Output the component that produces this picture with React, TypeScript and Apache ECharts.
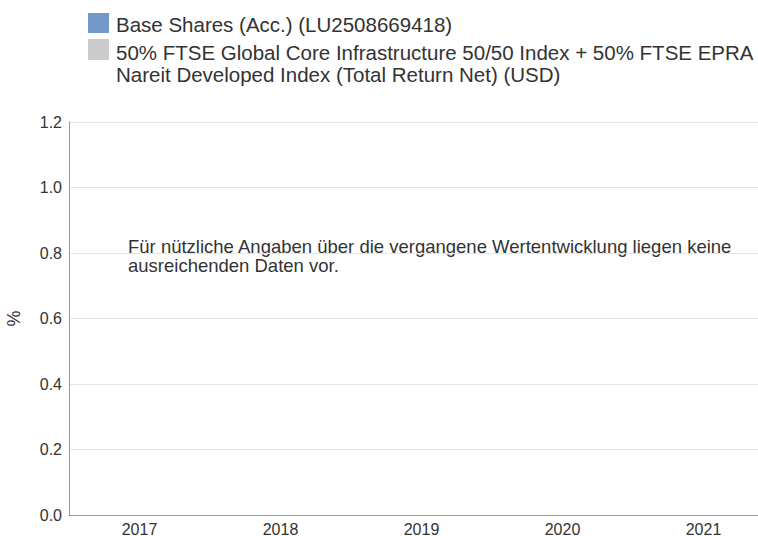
import React, { useEffect, useRef } from "react";
import * as echarts from "echarts";

const categories = ["2017", "2018", "2019", "2020", "2021"];
const fundValues: (number | null)[] = [];
const benchmarkValues: (number | null)[] = [];
const seriesNames = [
  "Base Shares (Acc.) (LU2508669418)",
  "50% FTSE Global Core Infrastructure 50/50 Index + 50% FTSE EPRA\nNareit Developed Index (Total Return Net) (USD)",
];
const seriesColors = ["#7399c6", "#cccccc"];
const message =
  "Für nützliche Angaben über die vergangene Wertentwicklung liegen keine\nausreichenden Daten vor.";

const FONT = "'Liberation Sans', Arial, Helvetica, sans-serif";

export default function App() {
  const ref = useRef<HTMLDivElement>(null);
  useEffect(() => {
    if (!ref.current) return;
    const chart = echarts.init(ref.current, undefined, { renderer: "svg" });
    chart.setOption({
      animation: false,
      textStyle: { fontFamily: FONT },
      grid: {
        left: 69,
        right: 6,
        top: 122,
        bottom: 21,
        containLabel: false,
        outerBoundsMode: "none",
      },
      xAxis: {
        type: "category",
        data: categories,
        axisLine: { show: true, lineStyle: { color: "#999999", width: 1 } },
        axisTick: { show: false },
        axisLabel: { color: "#333333", fontSize: 16, margin: 6, fontFamily: FONT },
        splitLine: { show: false },
      },
      yAxis: {
        type: "value",
        min: 0,
        max: 1.2,
        interval: 0.2,
        name: "%",
        nameLocation: "middle",
        nameGap: 46,
        nameRotate: 90,
        nameTextStyle: { color: "#333333", fontSize: 18, fontFamily: FONT },
        axisLine: { show: true, lineStyle: { color: "#999999", width: 1 } },
        axisTick: { show: false },
        axisLabel: {
          color: "#333333",
          fontSize: 16,
          margin: 7,
          fontFamily: FONT,
          formatter: (v: number) => v.toFixed(1),
        },
        splitLine: { show: true, lineStyle: { color: "#e6e6e6", width: 1 } },
      },
      series: [
        { name: seriesNames[0], type: "bar", data: fundValues, itemStyle: { color: seriesColors[0] } },
        { name: seriesNames[1], type: "bar", data: benchmarkValues, itemStyle: { color: seriesColors[1] } },
      ],
      graphic: [
        { type: "rect", left: 88, top: 13, shape: { width: 21, height: 20 }, style: { fill: seriesColors[0] } },
        { type: "rect", left: 88, top: 39, shape: { width: 21, height: 21 }, style: { fill: seriesColors[1] } },
        {
          type: "text",
          left: 116,
          top: 13,
          style: { text: seriesNames[0], fill: "#333333", fontSize: 20.5, lineHeight: 22, fontFamily: FONT },
        },
        {
          type: "text",
          left: 116,
          top: 41,
          style: { text: seriesNames[1], fill: "#333333", fontSize: 20.5, lineHeight: 22, fontFamily: FONT },
        },
        {
          type: "text",
          left: 128,
          top: 237,
          style: { text: message, fill: "#333333", fontSize: 18.5, lineHeight: 19, fontFamily: FONT },
        },
      ],
    });
    return () => chart.dispose();
  }, []);
  return (
    <div style={{ position: "absolute", left: 0, top: 0, width: 758, height: 536, overflow: "hidden", background: "#fff" }}>
      <div ref={ref} style={{ width: 780, height: 536 }} />
    </div>
  );
}
